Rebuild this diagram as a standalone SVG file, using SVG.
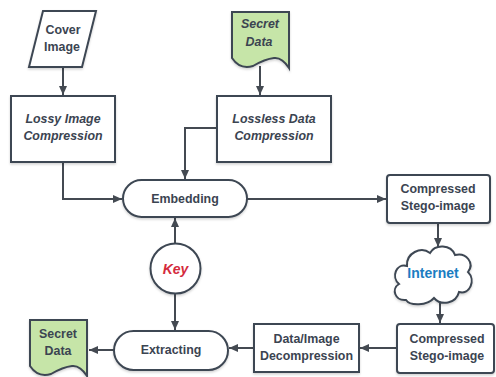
<svg xmlns="http://www.w3.org/2000/svg" width="496" height="377" viewBox="0 0 496 377">
<defs>
<marker id="ah" markerUnits="userSpaceOnUse" markerWidth="10" markerHeight="10" viewBox="0 0 10 10" refX="9" refY="5" orient="auto">
<path d="M0,1 L9,5 L0,9 Z" fill="#444a52"/>
</marker>
<filter id="sh" x="-10%" y="-10%" width="130%" height="140%">
<feDropShadow dx="0" dy="1.5" stdDeviation="1.2" flood-color="#000" flood-opacity="0.18"/>
</filter>
<style>
.s{fill:#fff;stroke:#3e4753;stroke-width:2;filter:url(#sh)}
.g{fill:#c6e5a8;stroke:#3e4753;stroke-width:2;filter:url(#sh)}
.t{font-family:"Liberation Sans",Arial,sans-serif;font-size:12.4px;font-weight:bold;fill:#3b4451;text-anchor:middle}
.i{font-style:italic}
.c{fill:none;stroke:#444a52;stroke-width:2;marker-end:url(#ah)}
</style>
</defs>
<g id="connectors">
<path class="c" d="M63,67 V95"/>
<path class="c" d="M63,162 V199 H122"/>
<path class="c" d="M260,66 V95"/>
<path class="c" d="M217,128 H185 V179"/>
<path class="c" d="M247,199 H386"/>
<path class="c" d="M438,223 V247"/>
<path class="c" d="M440,302 V323"/>
<path class="c" d="M397,348 H360"/>
<path class="c" d="M254,348 H229"/>
<path class="c" d="M114,350 H89"/>
<path class="c" d="M175,243 V218"/>
<path class="c" d="M175,294 V330"/>
</g>
<g id="cover-image">
<polygon class="s" points="43,11 96,11 82,67 29,67"/>
<text class="t" x="63" y="33.5">Cover</text>
<text class="t" x="62" y="50.5">Image</text>
</g>
<g id="secret-data-top">
<path class="g" d="M232,12 H289 V68 Q282,57 274,58 Q265,59 253,66 Q240,70 232,58 Z"/>
<text class="t i" x="260" y="28">Secret</text>
<text class="t i" x="259" y="46">Data</text>
</g>
<g id="lossy">
<rect class="s" x="11" y="96" width="104" height="66"/>
<text class="t i" x="63" y="123">Lossy Image</text>
<text class="t i" x="63" y="140">Compression</text>
</g>
<g id="lossless">
<rect class="s" x="217" y="96" width="114" height="66"/>
<text class="t i" x="274" y="123">Lossless Data</text>
<text class="t i" x="274" y="140">Compression</text>
</g>
<g id="embedding">
<rect class="s" x="123" y="180" width="124" height="37" rx="18.5"/>
<text class="t" x="185" y="202.5">Embedding</text>
</g>
<g id="stego-top">
<rect class="s" x="387" y="175" width="103" height="48" rx="3"/>
<text class="t" x="438" y="193">Compressed</text>
<text class="t" x="438" y="210">Stego-image</text>
</g>
<g id="internet">
<path class="s" d="M406,300 C395,301 391,289 399,284 C391,277 396,263 407,266 C406,253 421,246 430,253 C435,244 451,244 455,255 C466,252 475,263 468,272 C476,280 470,295 459,292 C456,304 441,306 434,298 C427,306 410,306 406,300 Z"/>
<text class="t" x="433" y="278" style="font-size:14px;fill:#1b7dc2">Internet</text>
</g>
<g id="key">
<circle class="s" cx="175.5" cy="268.5" r="25"/>
<text class="t i" x="175.5" y="274" style="font-size:14px;fill:#d42a3c">Key</text>
</g>
<g id="stego-bottom">
<rect class="s" x="397" y="324" width="97" height="49" rx="3"/>
<text class="t" x="447" y="343">Compressed</text>
<text class="t" x="447" y="360">Stego-image</text>
</g>
<g id="decompression">
<rect class="s" x="254" y="324" width="105" height="48"/>
<text class="t" x="306.5" y="343">Data/Image</text>
<text class="t" x="306.5" y="359.5">Decompression</text>
</g>
<g id="extracting">
<rect class="s" x="114" y="331" width="114" height="39" rx="19.5"/>
<text class="t" x="171" y="354">Extracting</text>
</g>
<g id="secret-data-bottom">
<path class="g" d="M30,320 H87 V376 Q80,365 72,366 Q63,367 51,374 Q38,378 30,366 Z"/>
<text class="t" x="58" y="338">Secret</text>
<text class="t" x="58" y="355">Data</text>
</g>
</svg>
